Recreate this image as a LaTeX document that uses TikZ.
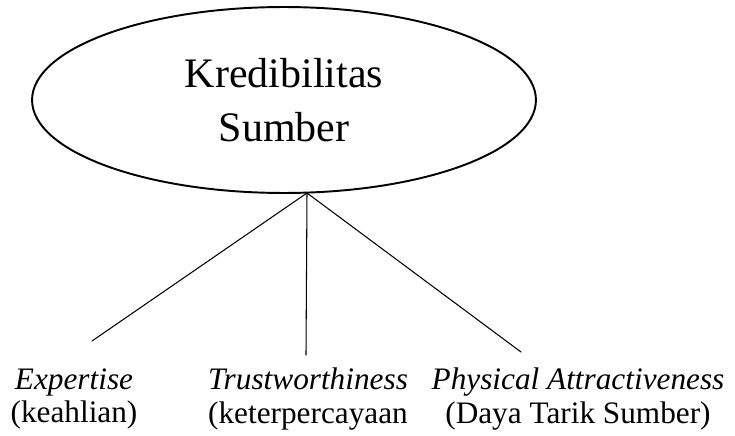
\documentclass[tikz,border=0pt]{standalone}
\usepackage{fontspec}
\setmainfont{Liberation Serif}
\usepackage{tkz-euclide}
\usetikzlibrary{shapes.geometric}

\begin{document}
\begin{tikzpicture}[x=0.02cm, y=-0.02cm,
	sumber/.style={ellipse, draw, line width=1.1pt, inner sep=0pt,
		minimum width=10.08cm, minimum height=3.72cm, align=center,
		font=\fontsize{23.9}{31}\selectfont},
	dimensi/.style={align=center, inner sep=0pt,
		font=\fontsize{17.8}{19}\selectfont}]
	\useasboundingbox (0,0) rectangle (735,436);
	
	\node[sumber] (kred) at (284,100) {Kredibilitas\\Sumber};
	
	\tkzDefPoints{307/193/A, 92/341/E1, 306/355/E2, 521/352/E3}
	\tkzDrawSegments[line width=0.6pt](A,E1 A,E2 A,E3)
	
	\node[dimensi] (exp) at (74,399) {\textit{Expertise}\\(keahlian)};
	\node[dimensi] (trust) at (308,399) {\textit{Trustworthiness}\\(keterpercayaan};
	\node[dimensi] (phys) at (578,399) {\textit{Physical Attractiveness}\\(Daya Tarik Sumber)};
\end{tikzpicture}
\end{document}
